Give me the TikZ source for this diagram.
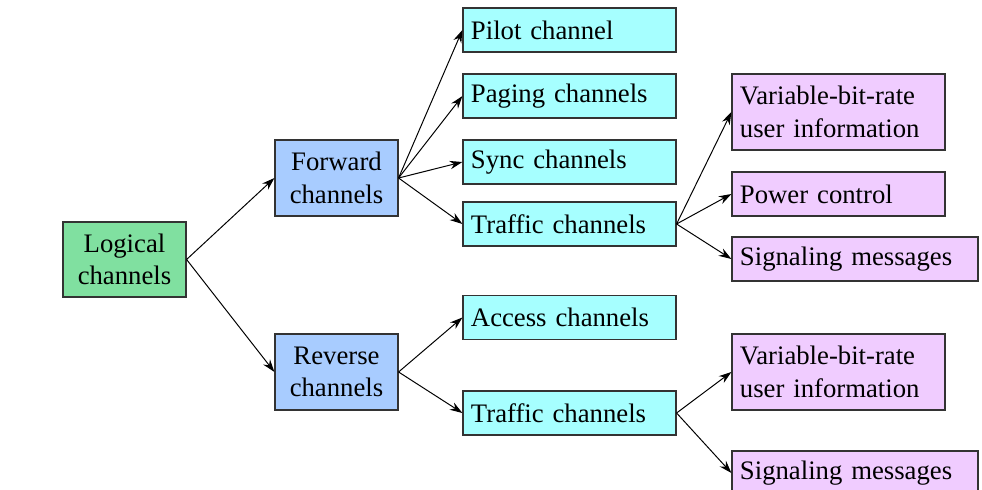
\documentclass[tikz,border=0pt]{standalone}
\usepackage{fontspec}
\setmainfont{Liberation Serif}
\usepackage{tikz}
\usetikzlibrary{positioning, arrows.meta}

\definecolor{logicgreen}{RGB}{128,224,160}
\definecolor{groupblue}{RGB}{168,204,255}
\definecolor{chancyan}{RGB}{166,255,255}
\definecolor{infopink}{RGB}{240,204,255}

\begin{document}
\begin{tikzpicture}[x=0.025cm, y=-0.025cm, ->, >={Stealth[length=9pt, width=6pt]},
    line width=0.7pt,
    every node/.style={draw=black!80, line width=0.8pt, font=\fontsize{19}{23}\selectfont},
    logicbox/.style={fill=logicgreen, minimum width=3.075cm, minimum height=1.875cm, align=center},
    groupbox/.style={fill=groupblue, minimum width=3.075cm, minimum height=1.9cm, align=center},
    chanbox/.style={fill=chancyan, inner xsep=0.2cm, text width=4.925cm, minimum height=1.1cm, align=left},
    infobox/.style={fill=infopink, inner xsep=0.2cm, text width=4.925cm, minimum height=1.1cm, align=left}]
      \useasboundingbox (0,0) rectangle (982,490);
      % first two levels
      \node [logicbox] (logical) at (124.5, 259.5) {Logical\\channels};
      \node [groupbox] (forward) at (336.5, 178) {Forward\\channels};
      \node [groupbox] (reverse) at (336.5, 372) {Reverse\\channels};
      % channel boxes
      \node [chanbox] (pilot) at (569.5, 30) {Pilot channel};
      \node [chanbox] (paging) at (569.5, 96) {Paging channels};
      \node [chanbox] (sync) at (569.5, 162) {Sync channels};
      \node [chanbox] (ftraffic) at (569.5, 224) {Traffic channels};
      \node [chanbox] (access) at (569.5, 317.5) {Access channels};
      \node [chanbox] (rtraffic) at (569.5, 413) {Traffic channels};
      % traffic contents
      \node [infobox, minimum height=1.9cm] (fvbr) at (838.5, 112) {Variable-bit-rate\\user information};
      \node [infobox] (power) at (838.5, 194) {Power control};
      \node [infobox, text width=5.75cm] (fsignal) at (855, 259) {Signaling messages};
      \node [infobox, minimum height=1.9cm] (rvbr) at (838.5, 372) {Variable-bit-rate\\user information};
      \node [infobox, text width=5.75cm] (rsignal) at (855, 473) {Signaling messages};
      \draw [->] (logical.east) -- (forward.west);
      \draw [->] (logical.east) -- (reverse.west);
      \draw [->] (forward.east) -- (pilot.west);
      \draw [->] (forward.east) -- (paging.west);
      \draw [->] (forward.east) -- (sync.west);
      \draw [->] (forward.east) -- (ftraffic.west);
      \draw [->] (reverse.east) -- (access.west);
      \draw [->] (reverse.east) -- (rtraffic.west);
      \draw [->] (ftraffic.east) -- (fvbr.west);
      \draw [->] (ftraffic.east) -- (power.west);
      \draw [->] (ftraffic.east) -- (fsignal.west);
      \draw [->] (rtraffic.east) -- (rvbr.west);
      \draw [->] (rtraffic.east) -- (rsignal.west);
  \end{tikzpicture}
\end{document}
